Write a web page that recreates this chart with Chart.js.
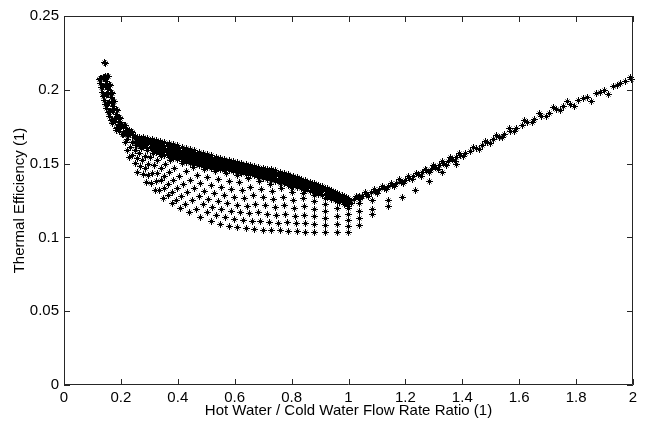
<!DOCTYPE html>
<html>
<head>
<meta charset="utf-8">
<script src="https://cdn.jsdelivr.net/npm/chart.js@4.4.1/dist/chart.umd.min.js"></script>
<style>
body { margin: 0; background: #fff; }
canvas { display: block; }
</style>
</head>
<body>
<canvas id="effChart" width="645" height="426"></canvas>
<script>
// ---------------- DATA ----------------
const xTicks = [0, 0.2, 0.4, 0.6, 0.8, 1, 1.2, 1.4, 1.6, 1.8, 2];
const yTicks = [0, 0.05, 0.1, 0.15, 0.2, 0.25];
const xTitle = "Hot Water / Cold Water Flow Rate Ratio (1)";
const yTitle = "Thermal Efficiency (1)";

// steep start of the cloud (x < 0.25)
const tipPts = [
    [.144,.2183],[.145,.2175],
    [.124,.2070],[.1286,.2074],[.1331,.2078],[.1377,.2082],[.1423,.2086],[.1469,.2090],[.1514,.2092],[.156,.2088],
    [.131,.2013],[.1356,.2017],[.1401,.2021],[.1447,.2025],[.1493,.2029],[.1539,.2033],[.1584,.2035],[.163,.2031],
    [.139,.1957],[.1436,.1961],[.1481,.1965],[.1527,.1969],[.1573,.1973],[.1619,.1977],[.1664,.1979],[.171,.1975],
    [.147,.1901],[.1516,.1905],[.1561,.1909],[.1607,.1913],[.1653,.1917],[.1699,.1921],[.1744,.1923],[.179,.1919],
    [.156,.1845],[.1606,.1849],[.1651,.1853],[.1697,.1857],[.1743,.1861],[.1789,.1865],[.1834,.1867],[.188,.1863],
    [.167,.1790],[.1716,.1794],[.1761,.1798],[.1807,.1802],[.1853,.1806],[.1899,.1810],[.1944,.1812],[.199,.1808],
    [.184,.1738],[.1886,.1742],[.1931,.1746],[.1977,.1750],[.2023,.1754],[.2069,.1757],[.2114,.1759],[.216,.1755],
    [.209,.1700],[.2136,.1704],[.2181,.1707],[.2227,.1710],[.2273,.1713],[.2319,.1716],[.2364,.1717],[.241,.1714],
    [.128,.2040],[.135,.1985],[.142,.1930],[.150,.1875],[.159,.1820],[.170,.1770],[.186,.1722],[.205,.1695],
    [.225,.1690],[.245,.1690],
    [.150,.2055],[.158,.2000],[.166,.1945],[.175,.1888],[.186,.1832],[.200,.1780],[.218,.1735],[.240,.1700],
    [.180,.1785],[.195,.1765],[.210,.1745],[.230,.1725],[.195,.1720],[.215,.1710],[.235,.1700]
];

// dense upper band, 0.25 .. 1.0
const bandX = [0.25,0.265,0.28,0.295,0.31,0.325,0.34,0.355,0.37,0.385,0.4,0.415,0.43,0.445,0.46,0.475,0.49,
    0.505,0.52,0.535,0.55,0.565,0.58,0.595,0.61,0.625,0.64,0.655,0.67,0.685,0.7,0.715,0.73,0.745,0.76,0.775,
    0.79,0.805,0.82,0.835,0.85,0.865,0.88,0.895,0.91,0.925,0.94,0.955,0.97,0.985,1.0];
const bandTop = [.1685,.1680,.1676,.1672,.1665,.1659,.1652,.1644,.1637,.1629,.1621,.1612,.1603,.1595,.1586,.1577,.1569,
    .1560,.1552,.1543,.1535,.1528,.1522,.1515,.1508,.1500,.1492,.1488,.1482,.1476,.1470,.1463,.1457,.1450,.1442,.1433,
    .1424,.1415,.1405,.1395,.1385,.1375,.1364,.1354,.1342,.1330,.1318,.1306,.1294,.1280,.1265];
const bandMid = [.1678,.1668,.1660,.1651,.1641,.1632,.1623,.1613,.1605,.1597,.1588,.1579,.1570,.1562,.1554,.1546,.1539,
    .1532,.1525,.1518,.1511,.1506,.1501,.1496,.1489,.1482,.1475,.1471,.1464,.1458,.1451,.1444,.1438,.1430,.1422,.1413,
    .1405,.1396,.1387,.1377,.1368,.1358,.1348,.1338,.1327,.1315,.1304,.1293,.1280,.1267,.1253];
const bandLow = [.1670,.1656,.1643,.1630,.1617,.1605,.1593,.1582,.1573,.1564,.1555,.1546,.1537,.1528,.1521,.1515,.1509,
    .1503,.1498,.1492,.1487,.1483,.1480,.1476,.1470,.1463,.1457,.1453,.1446,.1439,.1432,.1425,.1418,.1410,.1402,.1393,
    .1385,.1377,.1368,.1359,.1350,.1340,.1331,.1321,.1311,.1300,.1290,.1279,.1266,.1253,.1240];
const bandBase = [.1640,.1626,.1613,.1600,.1587,.1575,.1563,.1552,.1543,.1534,.1525,.1516,.1507,.1498,.1491,.1485,.1479,
    .1473,.1468,.1462,.1457,.1453,.1450,.1446,.1440,.1433,.1427,.1423,.1416,.1409,.1402,.1395,.1388,.1380,.1372,.1363,
    .1355,.1347,.1338,.1329,.1320,.1310,.1301,.1291,.1281,.1270,.1260,.1249,.1236,.1223,.1210];

// in-between points of the band (half a step to the right)
const fillX = [0.2575,0.2725,0.2875,0.3025,0.3175,0.3325,0.3475,0.3625,0.3775,0.3925,0.4075,0.4225,0.4375,0.4525,
    0.4675,0.4825,0.4975,0.5125,0.5275,0.5425,0.5575,0.5725,0.5875,0.6025,0.6175,0.6325,0.6475,0.6625,0.6775,0.6925,
    0.7075,0.7225,0.7375,0.7525,0.7675,0.7825,0.7975,0.8125,0.8275,0.8425,0.8575,0.8725,0.8875,0.9025,0.9175,0.9325,
    0.9475,0.9625,0.9775,0.9925];
const fillUp = [.1678,.1670,.1664,.1658,.1649,.1642,.1634,.1625,.1617,.1609,.1601,.1592,.1583,.1575,.1566,.1558,.1550,
    .1542,.1535,.1527,.1519,.1513,.1508,.1502,.1495,.1487,.1480,.1476,.1469,.1463,.1457,.1450,.1444,.1436,.1428,.1419,
    .1411,.1402,.1392,.1382,.1373,.1363,.1352,.1342,.1331,.1319,.1307,.1296,.1283,.1270];
const fillY = [.1670,.1658,.1648,.1637,.1625,.1615,.1604,.1594,.1585,.1577,.1568,.1559,.1550,.1541,.1534,.1527,.1520,
    .1514,.1508,.1501,.1495,.1491,.1487,.1482,.1476,.1469,.1462,.1458,.1451,.1445,.1438,.1431,.1424,.1416,.1408,.1399,
    .1391,.1383,.1374,.1364,.1355,.1345,.1336,.1326,.1315,.1304,.1293,.1282,.1269,.1256];
const fillDown = [.1651,.1637,.1624,.1611,.1598,.1586,.1574,.1563,.1554,.1545,.1536,.1527,.1518,.1509,.1502,.1496,.1490,
    .1484,.1479,.1473,.1468,.1464,.1461,.1457,.1451,.1444,.1438,.1434,.1427,.1420,.1413,.1406,.1399,.1391,.1383,.1374,
    .1366,.1358,.1349,.1340,.1331,.1321,.1312,.1302,.1292,.1281,.1271,.1260,.1247,.1234];

// mesh of points under the band (one line per column, top to bottom)
const fanPts = [
    [.2075,.1694],[.215,.1643],[.2225,.1591],[.23,.1540],
    [.224,.1666],[.233,.1610],[.242,.1555],[.251,.1499],[.26,.1443],
    [.24,.1645],[.25,.159],[.26,.1535],[.27,.148],[.28,.1425],[.29,.137],
    [.2557,.1623],[.2664,.1571],[.2771,.152],[.2879,.1469],[.2986,.1418],[.3093,.1366],[.32,.1315],
    [.2729,.1604],[.2857,.1547],[.2986,.1491],[.3114,.1434],[.3243,.1378],[.3371,.1321],[.35,.1265],
    [.2925,.1591],[.305,.154],[.3175,.1488],[.33,.1436],[.3425,.1384],[.355,.1333],[.3675,.1281],[.38,.1229],
    [.3138,.1571],[.3275,.1518],[.3413,.1464],[.355,.141],[.3688,.1356],[.3825,.1303],[.3963,.1249],[.41,.1195],
    [.3438,.1547],[.3575,.1492],[.3713,.1438],[.385,.1384],[.3988,.133],[.4125,.1276],[.4263,.1221],[.44,.1167],
    [.375,.1524],[.39,.1468],[.405,.1413],[.42,.1358],[.435,.1303],[.45,.1247],[.465,.1192],[.48,.1137],
    [.415,.1499],[.43,.1444],[.445,.1388],[.46,.1333],[.475,.1277],[.49,.1221],[.505,.1166],[.52,.111],
    [.4538,.1476],[.4675,.1421],[.4813,.1366],[.495,.1311],[.5088,.1255],[.5225,.12],[.5363,.1145],[.55,.109],
    [.4925,.1459],[.505,.1404],[.5175,.135],[.53,.1295],[.5425,.1241],[.555,.1186],[.5675,.1132],[.58,.1077],
    [.5313,.1444],[.5425,.139],[.5538,.1336],[.565,.1282],[.5763,.1228],[.5875,.1174],[.5988,.112],[.61,.1066],
    [.57,.1433],[.58,.1379],[.59,.1326],[.6,.1273],[.61,.1219],[.62,.1166],[.63,.1112],[.64,.1059],
    [.6088,.1422],[.6175,.137],[.6263,.1317],[.635,.1265],[.6438,.1212],[.6525,.1159],[.6613,.1107],[.67,.1054],
    [.6486,.1399],[.6571,.1341],[.6657,.1283],[.6743,.1224],[.6829,.1166],[.6914,.1108],[.7,.105],
    [.6871,.138],[.6943,.1325],[.7014,.1269],[.7086,.1214],[.7157,.1158],[.7229,.1103],[.73,.1047],
    [.7257,.136],[.7314,.1308],[.7371,.1255],[.7429,.1202],[.7486,.1149],[.7543,.1097],[.76,.1044],
    [.762,.1368],[.765,.1329],[.77,.1272],[.775,.1214],[.78,.1156],[.785,.1099],[.79,.1041],
    [.801,.1335],[.8033,.1302],[.8067,.1249],[.81,.1197],[.8133,.1144],[.8167,.1091],[.82,.1038],
    [.841,.1300],[.842,.1266],[.844,.1208],[.846,.1151],[.848,.1093],[.85,.1036],
    [.88,.1285],[.88,.1244],[.88,.1192],[.88,.1139],[.88,.1087],[.88,.1034],
    [.92,.1265],[.92,.1225],[.92,.1177],[.92,.1128],[.92,.108],[.92,.1032],
    [.96,.1240],[.96,.1195],[.96,.114],[.96,.1086],[.96,.1031],
    [1,.1225],[1,.1194],[1,.1153],[1,.1112],[1,.1071],[1,.103],
    [1.04,.1276],[1.04,.1231],[1.04,.1174],[1.04,.1129],[1.04,.1084],
    [1.086,.1253],[1.086,.1186],[1.086,.1152],[1.14,.125],[1.14,.1206],
    [1.19,.1267],[1.234,.1321],[1.286,.1377],[1.33,.144],[1.38,.1495]
];

// rising branch, x > 1
const risePts = [
    [1.005,.1249],[1.02,.1259],[1.035,.1270],[1.05,.1280],[1.065,.1291],[1.08,.1301],[1.095,.1312],[1.11,.1322],
    [1.125,.1333],[1.14,.1343],[1.155,.1354],[1.17,.1364],[1.185,.1375],[1.2,.1385],[1.215,.1398],[1.23,.1411],
    [1.245,.1424],[1.26,.1437],[1.275,.1450],[1.29,.1462],[1.305,.1475],[1.32,.1488],[1.335,.1501],[1.35,.1514],
    [1.365,.1527],[1.38,.1540],[1.395,.1553],[1.41,.1566],[1.43,.1584],[1.45,.1603],[1.47,.1622],[1.49,.1641],
    [1.51,.1660],[1.53,.1680],[1.55,.1700],[1.57,.1719],[1.59,.1739],[1.61,.1759],[1.63,.1778],[1.655,.1800],
    [1.68,.1821],[1.705,.1842],[1.73,.1864],[1.755,.1884],[1.78,.1903],[1.81,.1926],[1.84,.1949],[1.87,.1973],
    [1.9,.1996],[1.93,.2020],[1.955,.2041],[1.975,.2057],[1.995,.2073],
    [1.01,.1232],[1.028,.1280],[1.042,.1262],[1.06,.1302],[1.072,.1280],[1.09,.1323],[1.103,.1300],[1.12,.1345],
    [1.133,.1322],[1.15,.1367],[1.163,.1345],[1.18,.1390],[1.195,.1368],[1.21,.1410],[1.225,.1390],[1.24,.1436],
    [1.255,.1414],[1.27,.1462],[1.283,.1440],[1.3,.1488],[1.315,.1463],[1.33,.1514],[1.345,.1490],[1.36,.1540],
    [1.375,.1516],[1.39,.1570],[1.405,.1545],[1.44,.1608],[1.46,.1596],[1.48,.1650],[1.5,.1636],[1.52,.1688],
    [1.54,.1675],[1.565,.1735],[1.585,.1716],[1.62,.1795],[1.645,.1776],[1.67,.1840],[1.695,.1820],[1.72,.1880],
    [1.745,.1862],[1.77,.1920],[1.795,.1890],[1.825,.1938],[1.855,.1922],[1.885,.1980],[1.915,.1970],[1.945,.2028],
    [1.99,.2085]
];

// ---------------- MARKER ----------------
// small asterisk like the one matlab draws: bold plus, faint diagonals
function makeMarker() {
    const c = document.createElement("canvas");
    c.width = 7;
    c.height = 7;
    const g = c.getContext("2d");
    g.fillStyle = "rgba(0,0,0,0.45)";
    g.fillRect(1, 1, 1, 1); g.fillRect(5, 1, 1, 1);
    g.fillRect(1, 5, 1, 1); g.fillRect(5, 5, 1, 1);
    g.fillStyle = "#000";
    g.fillRect(3, 0, 1, 7);
    g.fillRect(0, 3, 7, 1);
    g.fillRect(2, 2, 3, 3);
    return c;
}
const marker = makeMarker();

// ---------------- BUILD DATASETS ----------------
function pts(list) {
    return list.map(p => ({ x: p[0], y: p[1] }));
}
function zip(xs, ys) {
    return xs.map((x, i) => ({ x: x, y: ys[i] })).filter(p => p.y !== undefined);
}

const markerStyle = {
    showLine: false,
    pointStyle: marker,
    pointRadius: 3.5,
    pointBorderWidth: 0,
    pointBorderColor: "#000",
    pointBackgroundColor: "#000",
    clip: 6
};

const sets = [
    pts(tipPts),
    zip(bandX, bandTop), zip(bandX, bandMid), zip(bandX, bandLow), zip(bandX, bandBase),
    zip(fillX, fillUp), zip(fillX, fillY), zip(fillX, fillDown),
    pts(fanPts), pts(risePts)
].map(d => Object.assign({ data: d }, markerStyle));

// ---------------- FRAME + INWARD TICKS ----------------
const frame = {
    id: "frame",
    beforeDatasetsDraw(chart) {
        // keep the little marker bitmaps crisp
        chart.ctx.imageSmoothingEnabled = false;
    },
    afterDraw(chart) {
        const { ctx, chartArea: a, scales: { x, y } } = chart;
        const t = 6;
        ctx.save();
        ctx.strokeStyle = "#262626";
        ctx.lineWidth = 1;
        ctx.beginPath();
        ctx.rect(a.left + 0.5, a.top + 0.5, a.right - a.left - 1, a.bottom - a.top - 1);
        xTicks.forEach(v => {
            const px = Math.round(x.getPixelForValue(v)) + 0.5;
            ctx.moveTo(px, a.bottom); ctx.lineTo(px, a.bottom - t);
            ctx.moveTo(px, a.top); ctx.lineTo(px, a.top + t);
        });
        yTicks.forEach(v => {
            const py = Math.round(y.getPixelForValue(v)) + 0.5;
            ctx.moveTo(a.left, py); ctx.lineTo(a.left + t, py);
            ctx.moveTo(a.right, py); ctx.lineTo(a.right - t, py);
        });
        ctx.stroke();
        ctx.restore();
    }
};

const font = { family: "'Liberation Sans', Arial, sans-serif", size: 15 };

new Chart(document.getElementById("effChart"), {
    type: "scatter",
    data: { datasets: sets },
    options: {
        responsive: false,
        animation: false,
        devicePixelRatio: 1,
        layout: { padding: { top: 16, right: 12, left: 0, bottom: 0 } },
        plugins: { legend: { display: false }, tooltip: { enabled: false } },
        scales: {
            x: {
                type: "linear",
                min: 0, max: 2,
                afterBuildTicks: s => { s.ticks = xTicks.map(v => ({ value: v })); },
                afterFit: s => { s.height = 41; },
                grid: { display: false, drawTicks: false },
                border: { display: false },
                ticks: { color: "#000", font: font, padding: 4, maxRotation: 0, autoSkip: false,
                         callback: v => String(v) },
                title: { display: true, text: xTitle, color: "#000", font: font, padding: { bottom: 6 } }
            },
            y: {
                type: "linear",
                min: 0, max: 0.25,
                afterBuildTicks: s => { s.ticks = yTicks.map(v => ({ value: v })); },
                afterFit: s => { s.width = 64; },
                grid: { display: false, drawTicks: false },
                border: { display: false },
                ticks: { color: "#000", font: font, padding: 5, autoSkip: false,
                         callback: v => String(v) },
                title: { display: true, text: yTitle, color: "#000", font: font, padding: { top: 11 } }
            }
        }
    },
    plugins: [frame]
});
</script>
</body>
</html>
